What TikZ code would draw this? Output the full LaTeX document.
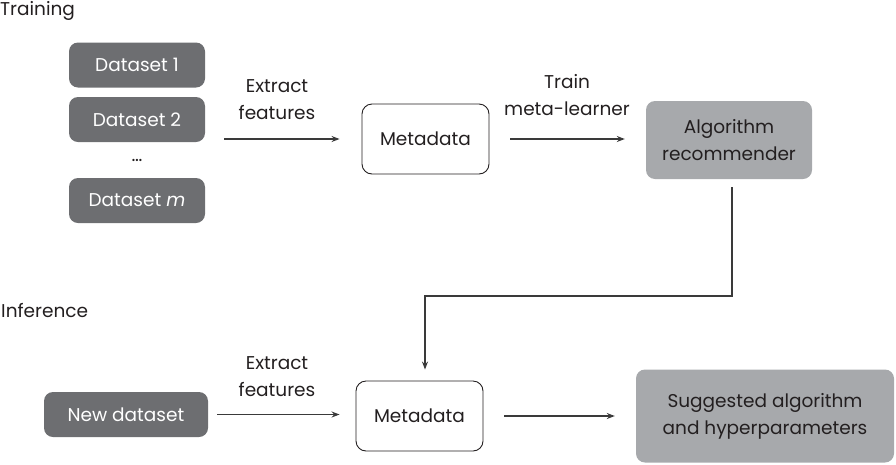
\documentclass[tikz,border=0pt]{standalone}
\usepackage{fontspec}
\setmainfont{Poppins}
\usetikzlibrary{arrows.meta}
\definecolor{dkgray}{HTML}{6D6E71}
\definecolor{ltgray}{HTML}{A7A9AC}
\definecolor{ink}{HTML}{231F20}
\definecolor{linec}{HTML}{3A3A3A}
\tikzset{
  every node/.style={font=\fontsize{18.5}{27}\selectfont, text=ink, inner sep=0pt},
  darkbox/.style={fill=dkgray, rounded corners=9pt, text=white, minimum width=136pt, minimum height=45pt},
  lightbox/.style={fill=ltgray, rounded corners=9pt, align=center},
  metabox/.style={draw=ink, line width=0.9pt, fill=white, rounded corners=10pt, minimum height=70pt, minimum width=127pt},
  conn/.style={draw=linec, line width=1.2pt, -{Stealth[length=8pt,width=6pt]}},
  lbl/.style={align=center}
}
\begin{document}
\begin{tikzpicture}[x=1pt,y=-1pt]
\useasboundingbox (0,0) rectangle (896,464);
% section labels
\node[anchor=west] (train) at (0,11) {Training};
\node[anchor=west] (infer) at (1,311) {Inference};
% datasets
\node[darkbox] (ds1) at (137,65) {Dataset 1};
\node[darkbox] (ds2) at (137,119.5) {Dataset 2};
\node (dots) at (137,160) {\ldots};
\node[darkbox] (dsm) at (137,200.5) {Dataset \textit{m}};
% training row
\node[metabox] (meta1) at (425.5,139) {Metadata};
\node[lightbox, minimum width=166pt, minimum height=78pt] (rec) at (729,140) {Algorithm\\recommender};
% inference row
\node[darkbox, minimum width=164pt] (new) at (126,414.5) {New dataset};
\node[metabox, minimum width=127pt, minimum height=70pt] (meta2) at (419.5,416) {Metadata};
\node[lightbox, minimum width=258pt, minimum height=93pt] (sugg) at (765,416) {Suggested algorithm\\and hyperparameters};
% arrows
\draw[conn, shorten <=19pt, shorten >=22pt] (ds2.east |- meta1.west) -- (meta1.west);
\draw[conn, shorten <=21pt, shorten >=21pt] (meta1.east) -- (rec.west |- meta1.east);
\draw[conn, shorten <=9pt, shorten >=16pt] (new.east) -- (meta2.west |- new.east);
\draw[conn, shorten <=21pt, shorten >=21pt] (meta2.east) -- (sugg.west |- meta2.east);
\coordinate (turnR) at (732,296);
\coordinate (turnL) at (425,296);
\draw[conn, shorten <=8pt, shorten >=11pt] (turnR |- rec.south) -- (turnR) -- (turnL) -- (turnL |- meta2.north);
% arrow labels
\node[lbl] (lab1) at (277,100) {Extract\\features};
\node[lbl] (lab2) at (567,95) {Train\\meta-learner};
\node[lbl] (lab3) at (277,377) {Extract\\features};
\end{tikzpicture}
\end{document}
